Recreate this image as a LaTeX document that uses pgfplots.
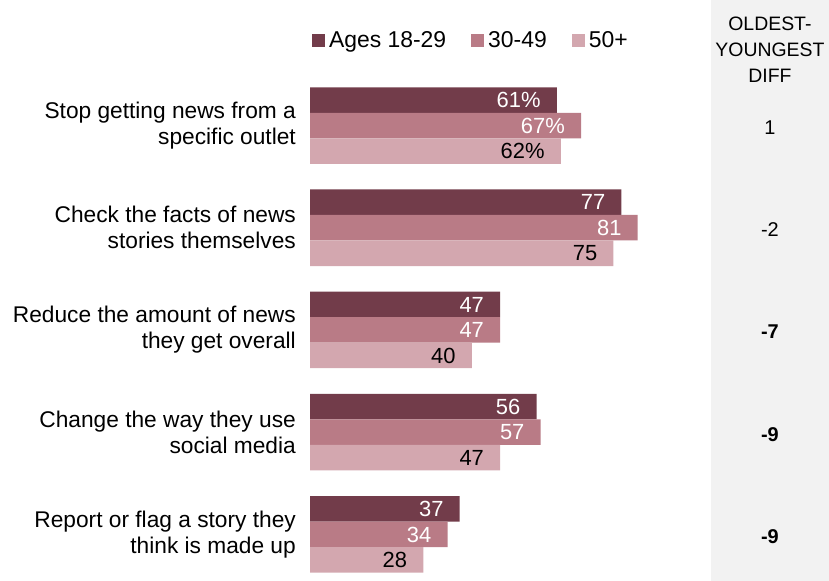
\documentclass[border=0pt]{standalone}
\usepackage{pgfplots}
\pgfplotsset{compat=1.18}
\usepackage{fontspec}
\setmainfont{Liberation Sans}
\definecolor{c1}{HTML}{723C4A}
\definecolor{c2}{HTML}{B97B86}
\definecolor{c3}{HTML}{D3A7AF}
\definecolor{panel}{HTML}{F2F2F2}
\begin{document}
\begin{tikzpicture}
\useasboundingbox (0,0) rectangle (829bp,581bp);
\begin{axis}[
  at={(310bp,0bp)}, anchor=south west,
  scale only axis, width=519bp, height=581bp,
  xmin=0, xmax=128.3, ymin=-1.2275, ymax=4.455, y dir=reverse,
  clip=false,
  axis line style={draw=none}, tick style={draw=none},
  major tick length=0pt,
  xtick=\empty, ytick={0,1,2,3,4},
  yticklabels={{Stop getting news from a\\specific outlet},
               {Check the facts of news\\stories themselves},
               {Reduce the amount of news\\they get overall},
               {Change the way they use\\social media},
               {Report or flag a story they\\think is made up}},
  yticklabel style={align=right, inner sep=0pt, xshift=-14bp,
     font=\fontsize{22.8}{26}\selectfont},
  xbar, bar width=25.5bp,
  nodes near coords, point meta=explicit symbolic,
  every node near coord/.append style={anchor=east, inner sep=0pt, xshift=-16bp,
     font=\fontsize{22}{26}\selectfont},
  legend image code/.code={\fill[#1,draw=none] (0bp,-6.5bp) rectangle (13bp,6.5bp);},
  legend style={at={(axis cs:0.5,-0.836)}, anchor=west, draw=none, fill=none,
     inner sep=0pt, outer sep=0pt, legend columns=3,
     nodes={inner sep=0pt, font=\fontsize{23}{26}\selectfont},
     /tikz/every odd column/.append style={column sep=4bp},
     /tikz/every even column/.append style={column sep=25bp}},
  legend cell align=left,
]
\fill[panel] (axis cs:99.1,-1.2275) rectangle (axis cs:128.3,4.455);
\addplot[fill=c1, draw=none, bar shift=25.5bp,
  every node near coord/.append style={text=white}] table[x=x, y=y, meta=l] {
x y l
61 0 61\%
77 1 77
47 2 47
56 3 56
37 4 37
};
\addlegendentry{Ages 18-29}
\addplot[fill=c2, draw=none, bar shift=0bp,
  every node near coord/.append style={text=white}] table[x=x, y=y, meta=l] {
x y l
67 0 67\%
81 1 81
47 2 47
57 3 57
34 4 34
};
\addlegendentry{30-49}
\addplot[fill=c3, draw=none, bar shift=-25.5bp,
  every node near coord/.append style={text=black}] table[x=x, y=y, meta=l] {
x y l
62 0 62\%
75 1 75
40 2 40
47 3 47
28 4 28
};
\addlegendentry{50+}
\node[align=center, font=\fontsize{19.5}{26}\selectfont] at (axis cs:113.7,-0.738) {OLDEST-\\YOUNGEST\\DIFF};
\node[font=\fontsize{20}{26}\selectfont] at (axis cs:113.7,0.02) {1};
\node[font=\fontsize{20}{26}\selectfont] at (axis cs:113.7,1.02) {-2};
\node[font=\fontsize{20}{26}\selectfont\bfseries] at (axis cs:113.7,2.02) {-7};
\node[font=\fontsize{20}{26}\selectfont\bfseries] at (axis cs:113.7,3.02) {-9};
\node[font=\fontsize{20}{26}\selectfont\bfseries] at (axis cs:113.7,4.02) {-9};
\end{axis}
\end{tikzpicture}
\end{document}
